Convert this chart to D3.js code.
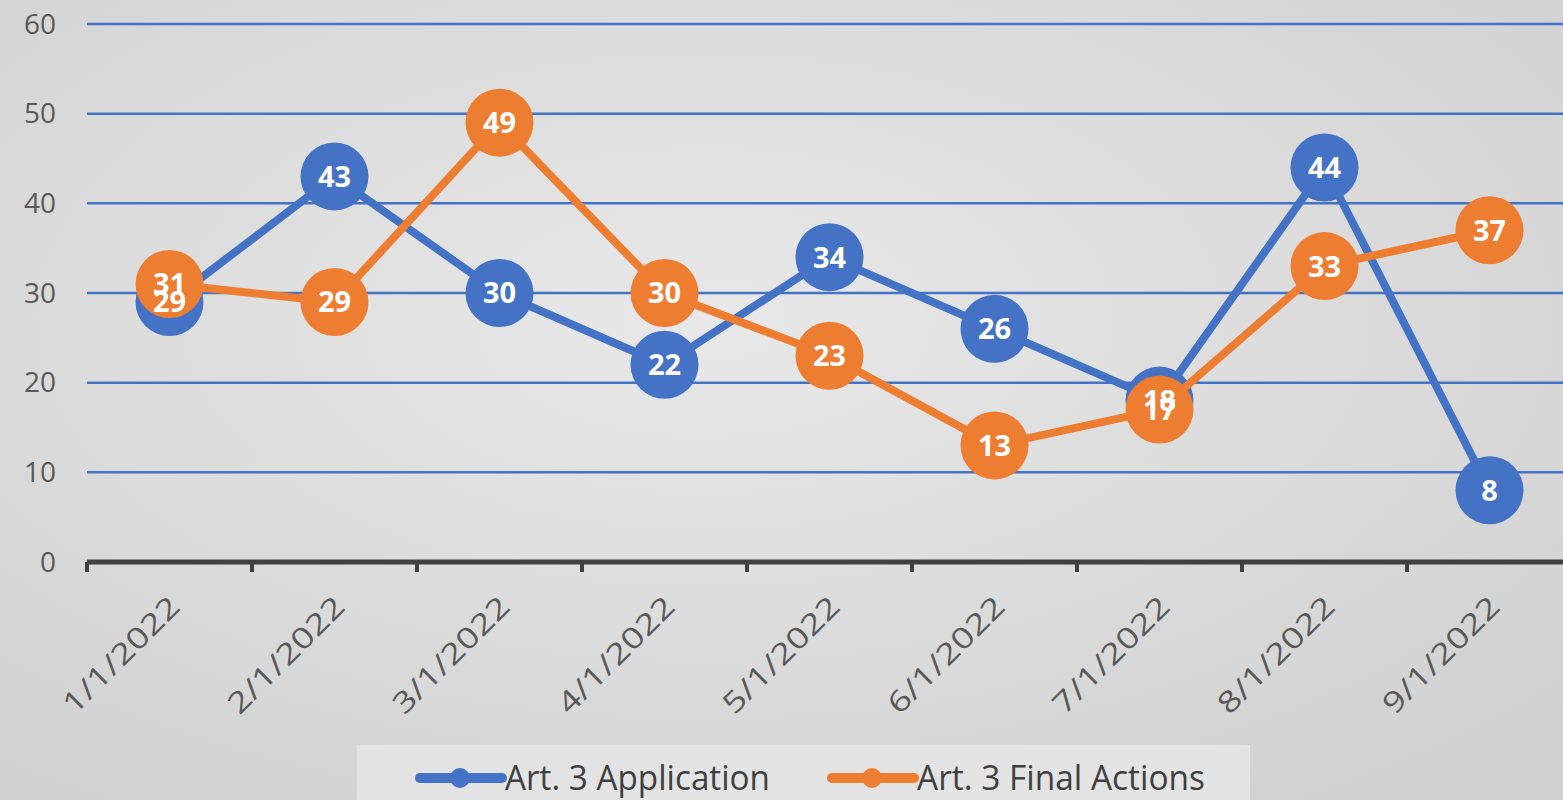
<!DOCTYPE html>
<meta charset="utf-8" />
<head>
  <script src="https://d3js.org/d3.v7.min.js"></script>
  <style>
    body { margin: 0; overflow: hidden; }
    svg { display: block; }
  </style>
</head>
<body>
  <div id="chart"></div>
</body>
<script>
  // chart data
  var categories = ["1/1/2022", "2/1/2022", "3/1/2022", "4/1/2022", "5/1/2022",
    "6/1/2022", "7/1/2022", "8/1/2022", "9/1/2022"];
  var application = [29, 43, 30, 22, 34, 26, 18, 44, 8];
  var finalActions = [31, 29, 49, 30, 23, 13, 17, 33, 37];
  var yTicks = [0, 10, 20, 30, 40, 50, 60];
  var seriesNames = ["Art. 3 Application", "Art. 3 Final Actions"];

  var W = 1563, H = 800;
  var margin = { top: 24, left: 87, bottom: 238 };
  var plotH = H - margin.top - margin.bottom;

  var svg = d3.select("#chart").append("svg")
    .attr("width", W).attr("height", H);

  // background gradient
  var defs = svg.append("defs");
  var grad = defs.append("radialGradient").attr("id", "bg")
    .attr("cx", "45%").attr("cy", "40%").attr("r", "75%");
  grad.append("stop").attr("offset", "0%").attr("stop-color", "#e8e8e8");
  grad.append("stop").attr("offset", "100%").attr("stop-color", "#d0d0d0");
  svg.append("rect").attr("width", W).attr("height", H).attr("fill", "url(#bg)");

  var x = d3.scaleBand().domain(categories).range([87, 87 + 165 * 9]);
  var y = d3.scaleLinear().domain([0, 60]).range([margin.top + plotH, margin.top]);

  // gridlines
  svg.append("g").selectAll("line")
    .data(yTicks.filter(function (d) { return d > 0; }))
    .enter().append("line")
    .attr("x1", 87).attr("x2", W)
    .attr("y1", function (d) { return y(d); })
    .attr("y2", function (d) { return y(d); })
    .attr("stroke", "#4472c4").attr("stroke-width", 2.5);

  // y labels
  svg.append("g").selectAll("text")
    .data(yTicks).enter().append("text")
    .attr("x", 56).attr("y", function (d) { return y(d); })
    .attr("dy", "0.35em")
    .attr("text-anchor", "end")
    .style("font-family", "'Open Sans', sans-serif")
    .style("font-size", "28px")
    .style("fill", "#595959")
    .text(function (d) { return d; });

  // x axis
  var xAxis = svg.append("g")
    .attr("transform", "translate(0," + y(0) + ")")
    .call(d3.axisBottom(x).tickSize(0).tickFormat(""));
  xAxis.select(".domain").attr("stroke", "#404040").attr("stroke-width", 5)
    .attr("d", "M87,0H" + W);
  var tickPos = d3.range(categories.length + 1).map(function (i) { return 87 + i * x.bandwidth(); });
  svg.append("g").selectAll("line").data(tickPos).enter().append("line")
    .attr("x1", function (d) { return d; }).attr("x2", function (d) { return d; })
    .attr("y1", y(0)).attr("y2", y(0) + 10)
    .attr("stroke", "#404040").attr("stroke-width", 4);

  // x labels rotated
  svg.append("g").selectAll("text")
    .data(categories).enter().append("text")
    .attr("transform", function (d) {
      return "translate(" + (x(d) + x.bandwidth() / 2 - 2) + "," + (y(0) + 32) + ") rotate(-45)";
    })
    .attr("text-anchor", "end")
    .attr("dy", "0.7em")
    .attr("textLength", 152)
    .attr("lengthAdjust", "spacingAndGlyphs")
    .style("font-family", "'Open Sans', sans-serif")
    .style("font-size", "29px")
    .style("fill", "#595959")
    .text(function (d) { return d; });

  var colors = ["#4472c4", "#ed7d31"];
  var allSeries = [application, finalActions];

  var line = d3.line()
    .x(function (d, i) { return x(categories[i]) + x.bandwidth() / 2; })
    .y(function (d) { return y(d); });

  allSeries.forEach(function (vals, s) {
    svg.append("path").datum(vals)
      .attr("d", line)
      .attr("fill", "none")
      .attr("stroke", colors[s])
      .attr("stroke-width", 8)
      .attr("stroke-linejoin", "round");
    svg.append("g").selectAll("circle").data(vals).enter().append("circle")
      .attr("cx", function (d, i) { return x(categories[i]) + x.bandwidth() / 2; })
      .attr("cy", function (d) { return y(d); })
      .attr("r", 34)
      .attr("fill", colors[s]);
  });

  // data labels
  allSeries.forEach(function (vals, s) {
    svg.append("g").selectAll("text").data(vals).enter().append("text")
      .attr("x", function (d, i) { return x(categories[i]) + x.bandwidth() / 2; })
      .attr("y", function (d) { return y(d); })
      .attr("dy", "0.36em")
      .attr("text-anchor", "middle")
      .style("font-family", "'Open Sans', sans-serif")
      .style("font-weight", "bold")
      .style("font-size", "29px")
      .style("fill", "#ffffff")
      .text(function (d) { return d; });
  });

  // legend
  svg.append("rect").attr("x", 357).attr("y", 745).attr("width", 893).attr("height", 60)
    .attr("fill", "#e3e3e3");
  var legendX = [416, 828];
  var legendTextW = [265, 288];
  seriesNames.forEach(function (name, s) {
    var g = svg.append("g").attr("transform", "translate(" + legendX[s] + ",778)");
    g.append("line").attr("x1", 4).attr("x2", 86).attr("y1", 0).attr("y2", 0)
      .attr("stroke", colors[s]).attr("stroke-width", 10).attr("stroke-linecap", "round");
    g.append("circle").attr("cx", 44).attr("cy", 0).attr("r", 10).attr("fill", colors[s]);
    g.append("text").attr("x", 89).attr("y", 0).attr("dy", "0.34em")
      .attr("textLength", legendTextW[s])
      .attr("lengthAdjust", "spacingAndGlyphs")
      .style("font-family", "'Open Sans', sans-serif")
      .style("font-size", "34px")
      .style("fill", "#404040")
      .text(name);
  });
</script>
